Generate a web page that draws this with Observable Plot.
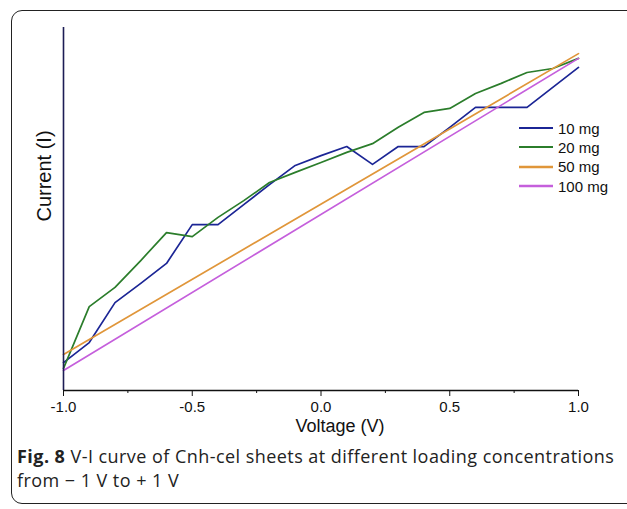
<!DOCTYPE html>
<html>
<head>
<meta charset="utf-8">
<script src="https://cdn.jsdelivr.net/npm/d3@7"></script>
<script src="https://cdn.jsdelivr.net/npm/@observablehq/plot@0.6"></script>
<style>
  html, body { margin: 0; padding: 0; background: #fff; }
  #wrap { position: relative; width: 627px; height: 509px; overflow: hidden; background: #fff; }
  #box { position: absolute; left: 11px; top: 10px; width: 640px; height: 494px; border: 1.6px solid #222; border-radius: 11px; box-sizing: border-box; }
  #chart { position: absolute; left: 0; top: 0; }
  #legend { position: absolute; left: 519px; top: 118.5px; font-family: "Liberation Sans", Arial, sans-serif; font-size: 15px; color: #111; }
  #legend .row { display: flex; align-items: center; height: 19.3px; }
  #legend svg { margin-right: 5px; }
  #caption { position: absolute; left: 17px; top: 444px; width: 610px; white-space: nowrap; font-family: "Open Sans", "Noto Sans", sans-serif; font-size: 18px; line-height: 24px; color: #222; letter-spacing: 0.45px; }
  #caption b { font-weight: 700; }
</style>
</head>
<body>
<div id="wrap">
  <div id="box"></div>
  <div id="chart"></div>
  <div id="legend"></div>
  <div id="caption"><b>Fig. 8</b> V-I curve of Cnh-cel sheets at different loading concentrations<br>from − 1 V to + 1 V</div>
</div>
<script>
// Voltage (V) sample points
const voltage = [-1.0, -0.9, -0.8, -0.7, -0.6, -0.5, -0.4, -0.3, -0.2, -0.1, 0.0, 0.1, 0.2, 0.3, 0.4, 0.5, 0.6, 0.7, 0.8, 0.9, 1.0];
// Current (arbitrary units)
const current10 = [7.7, 13.2, 24.2, 29.5, 35.0, 45.7, 45.7, 51.2, 56.7, 62.0, 64.7, 67.2, 62.3, 67.2, 67.2, 72.5, 78.0, 78.0, 78.0, 83.5, 89.0];
const current20 = [6.1, 23.1, 28.4, 35.8, 43.5, 42.4, 47.7, 52.3, 57.3, 60.1, 62.8, 65.6, 68.0, 72.5, 76.6, 77.7, 81.8, 84.6, 87.6, 88.7, 91.5];
const voltageLinear = [-1.0, 1.0];
const current50 = [9.9, 92.8];
const current100 = [5.5, 91.5];

const seriesNames = ["10 mg", "20 mg", "50 mg", "100 mg"];
const seriesColors = ["#1b2595", "#2b7d2b", "#e0963a", "#c55fdc"];
const majorTicks = [-1.0, -0.5, 0.0, 0.5, 1.0];
const minorTicks = [-0.75, -0.25, 0.25, 0.75];

const data = [];
voltage.forEach((v, i) => data.push({series: seriesNames[0], V: v, I: current10[i]}));
voltage.forEach((v, i) => data.push({series: seriesNames[1], V: v, I: current20[i]}));
voltageLinear.forEach((v, i) => data.push({series: seriesNames[2], V: v, I: current50[i]}));
voltageLinear.forEach((v, i) => data.push({series: seriesNames[3], V: v, I: current100[i]}));

const plot = Plot.plot({
  width: 627,
  height: 440,
  marginLeft: 63,
  marginRight: 49,
  marginTop: 27,
  marginBottom: 50,
  style: { fontFamily: "'Liberation Sans', Arial, sans-serif", fontSize: "15px", color: "#111", background: "transparent" },
  x: { domain: [-1, 1] },
  y: { domain: [0, 100], axis: null },
  color: { domain: seriesNames, range: seriesColors },
  marks: [
    Plot.line(data, { x: "V", y: "I", z: "series", stroke: "series", strokeWidth: 1.7 }),
    Plot.ruleX([-1], { stroke: "#1d1d55", strokeWidth: 1.6 }),
    Plot.ruleY([0], { stroke: "#111", strokeWidth: 1.6 }),
    Plot.axisX(majorTicks, { tickSize: 6, tickPadding: 5, tickFormat: d => d.toFixed(1), fontSize: 15, label: null, stroke: "#111" }),
    Plot.axisX(minorTicks, { tickSize: 3, tickFormat: () => "", label: null, stroke: "#111" }),
    Plot.text(["Voltage (V)"], { frameAnchor: "bottom", dx: 19, dy: 41, fontSize: 18, fill: "#111" }),
    Plot.text(["Current (I)"], { frameAnchor: "left", textAnchor: "middle", dx: -19, dy: -33, rotate: -90, fontSize: 20, fill: "#111" })
  ]
});
document.getElementById("chart").appendChild(plot);

const legend = document.getElementById("legend");
seriesNames.forEach((name, i) => {
  const row = document.createElement("div");
  row.className = "row";
  row.innerHTML = `<svg width="34" height="4"><line x1="0" x2="34" y1="2" y2="2" stroke="${seriesColors[i]}" stroke-width="${i >= 2 ? 2.4 : 1.8}"/></svg><span>${name}</span>`;
  legend.appendChild(row);
});
</script>
</body>
</html>
